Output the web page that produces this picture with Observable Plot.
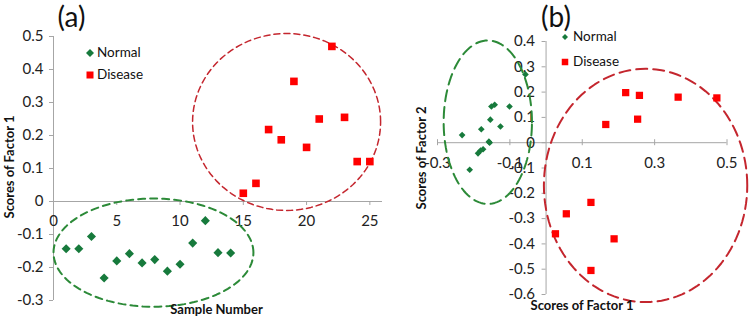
<!DOCTYPE html>
<html><head><meta charset="utf-8">
<script src="https://cdn.jsdelivr.net/npm/d3@7"></script>
<script src="https://cdn.jsdelivr.net/npm/@observablehq/plot@0.6"></script>
<style>
body{margin:0;background:#fff;}
#wrap{position:relative;width:749px;height:318px;overflow:hidden;font-family:Lato,"Open Sans",sans-serif;}
#wrap svg{position:absolute;top:0;overflow:visible;background:transparent;}
.lbl{position:absolute;white-space:nowrap;color:#111;transform:translate(-50%,-50%);line-height:1;}
.leg{position:absolute;white-space:nowrap;color:#111;font-size:13.5px;line-height:1;transform:translateY(-50%);}
</style></head><body><div id="wrap"></div>
<script>
// ---------- Panel (a): Scores of Factor 1 by sample ----------
const sampleNormal = [1,2,3,4,5,6,7,8,9,10,11,12,13,14];
const factor1Normal = [-0.143,-0.143,-0.106,-0.232,-0.180,-0.158,-0.186,-0.176,-0.211,-0.190,-0.126,-0.058,-0.155,-0.156];
const sampleDisease = [15,16,17,18,19,20,21,22,23,24,25];
const factor1Disease = [0.025,0.055,0.218,0.187,0.364,0.164,0.250,0.470,0.255,0.121,0.121];
const aXTicks = [0,5,10,15,20,25];
const aYTicks = [-0.3,-0.2,-0.1,0,0.1,0.2,0.3,0.4,0.5];
const aYTickLabels = ["-0.3","-0.2","-0.1","0","0.1","0.2","0.3","0.4","0.5"];
// ---------- Panel (b): Factor 1 vs Factor 2 ----------
const bNormalF1 = [-0.057,-0.101,-0.151,-0.142,-0.154,-0.126,-0.179,-0.232,-0.156,-0.174,-0.181,-0.188,-0.211,-0.158];
const bNormalF2 = [0.270,0.143,0.143,0.150,0.091,0.064,0.053,0.030,0.000,-0.026,-0.031,-0.042,-0.107,0.004];
const bDiseaseF1 = [0.220,0.258,0.365,0.472,0.165,0.253,0.124,0.056,0.188,0.124,0.026];
const bDiseaseF2 = [0.198,0.187,0.180,0.177,0.072,0.093,-0.236,-0.281,-0.380,-0.505,-0.360];
const bXTicks = [-0.3,-0.1,0.1,0.3,0.5];
const bXTickLabels = ["-0.3","-0.1","0.1","0.3","0.5"];
const bYTicks = [-0.6,-0.5,-0.4,-0.3,-0.2,-0.1,0,0.1,0.2,0.3,0.4];
const bYTickLabels = ["-0.6","-0.5","-0.4","-0.3","-0.2","-0.1","0","0.1","0.2","0.3","0.4"];
// ---------- cluster ellipses (annotation): [cx, cy, rx, ry] in data units ----------
const aNormalEllipse = [7.9,-0.155,7.9,0.164];
const aDiseaseEllipse = [18.42,0.241,7.43,0.268];
const bNormalEllipse = [-0.161,0.081,0.122,0.323];
const bDiseaseEllipse = [0.275,-0.169,0.281,0.461];

const GREEN = "#177a3c", RED = "#ff0000", AXIS = "#a6a6a6";
const RED_DASH = "#c4262e", GREEN_DASH = "#2c8a38";

const zip = (xs, ys) => xs.map((x, i) => ({x, y: ys[i]}));
const ellipse = ([cx, cy, rx, ry]) => d3.range(0, 361, 3).map(a => {
  const t = a * Math.PI / 180;
  return {x: cx + rx * Math.cos(t), y: cy + ry * Math.sin(t)};
});

const wrap = document.getElementById("wrap");

// Panel (a)
const aTickY = 4 / 330, aTickX = 4 / 12.65;
const plotA = Plot.plot({
  width: 400, height: 318,
  marginLeft: 53, marginRight: 18, marginTop: 36, marginBottom: 18,
  x: {domain: [0, 26], axis: null},
  y: {domain: [-0.3, 0.5], axis: null},
  style: {background: "transparent", fontFamily: "Lato, sans-serif", overflow: "visible"},
  marks: [
    Plot.ruleY([0], {x1: 0, x2: 26, stroke: AXIS}),
    Plot.ruleX([0], {y1: -0.3, y2: 0.5, stroke: AXIS}),
    Plot.ruleX(aXTicks, {x: d => d, y1: 0, y2: -aTickY, stroke: AXIS}),
    Plot.ruleY(aYTicks, {y: d => d, x1: -aTickX, x2: 0, stroke: AXIS}),
    Plot.text(aXTicks, {x: d => d, y: 0, dy: 20, text: d => String(d), fontSize: 15, fill: "#222"}),
    Plot.text(aYTicks, {x: 0, y: d => d, dx: -10, text: (d, i) => aYTickLabels[i], textAnchor: "end", fontSize: 15, fill: "#222"}),
    Plot.line(ellipse(aNormalEllipse), {x: "x", y: "y", stroke: GREEN_DASH, strokeWidth: 2, strokeDasharray: "7,5"}),
    Plot.line(ellipse(aDiseaseEllipse), {x: "x", y: "y", stroke: RED_DASH, strokeWidth: 1.5, strokeDasharray: "6,4"}),
    Plot.dot(zip(sampleNormal, factor1Normal), {x: "x", y: "y", symbol: "diamond2", r: 4.1, fill: GREEN, stroke: "none"}),
    Plot.dot(zip(sampleDisease, factor1Disease), {x: "x", y: "y", symbol: "square", r: 4.3, fill: RED, stroke: "none"})
  ]
});
plotA.style.left = "0px";
wrap.appendChild(plotA);

// Panel (b)
const bTickY = 3 / 253, bTickX = 4 / 361.9;
const plotB = Plot.plot({
  width: 369, height: 318,
  marginLeft: 57, marginRight: 22.5, marginTop: 41, marginBottom: 24,
  x: {domain: [-0.3, 0.5], axis: null},
  y: {domain: [-0.6, 0.4], axis: null},
  style: {background: "transparent", fontFamily: "Lato, sans-serif", overflow: "visible"},
  marks: [
    Plot.ruleY([0], {x1: -0.3, x2: 0.5, stroke: AXIS}),
    Plot.ruleX([0], {y1: -0.6, y2: 0.4, stroke: AXIS}),
    Plot.ruleX(bXTicks, {x: d => d, y1: bTickY, y2: -bTickY, stroke: AXIS}),
    Plot.ruleY(bYTicks, {y: d => d, x1: -bTickX, x2: 0, stroke: AXIS}),
    Plot.text(bXTicks, {x: d => d, y: 0, dy: 20, text: (d, i) => bXTickLabels[i], fontSize: 15, fill: "#222"}),
    Plot.text(bYTicks, {x: 0, y: d => d, dx: -11, text: (d, i) => bYTickLabels[i], textAnchor: "end", fontSize: 15, fill: "#222"}),
    Plot.line(ellipse(bNormalEllipse), {x: "x", y: "y", stroke: GREEN_DASH, strokeWidth: 2, strokeDasharray: "11,6"}),
    Plot.line(ellipse(bDiseaseEllipse), {x: "x", y: "y", stroke: RED_DASH, strokeWidth: 2, strokeDasharray: "11,6"}),
    Plot.dot(zip(bNormalF1, bNormalF2), {x: "x", y: "y", symbol: "diamond2", r: 3, fill: GREEN, stroke: "none"}),
    Plot.dot(zip(bDiseaseF1, bDiseaseF2), {x: "x", y: "y", symbol: "square", r: 4.1, fill: RED, stroke: "none"})
  ]
});
plotB.style.left = "380px";
wrap.appendChild(plotB);

// Titles and axis titles
function label(text, cx, cy, css) {
  const d = document.createElement("div");
  d.className = "lbl";
  d.textContent = text;
  d.style.left = cx + "px";
  d.style.top = cy + "px";
  Object.assign(d.style, css || {});
  wrap.appendChild(d);
}
label("(a)", 71.5, 16, {fontSize: "28px"});
label("(b)", 556, 16, {fontSize: "28px"});
label("Scores of Factor 1", 9, 167, {fontSize: "13px", fontWeight: "bold", transform: "translate(-50%,-50%) rotate(-90deg)"});
label("Sample Number", 216.5, 309, {fontSize: "13px", fontWeight: "bold"});
label("Scores of Factor 2", 421, 158, {fontSize: "13px", fontWeight: "bold", transform: "translate(-50%,-50%) rotate(-90deg)"});
label("Scores of Factor 1", 582, 305, {fontSize: "13px", fontWeight: "bold"});

// Legends
function legendItem(x, y, kind, size, color, text, textX) {
  const ns = "http://www.w3.org/2000/svg";
  const s = document.createElementNS(ns, "svg");
  s.setAttribute("width", 12); s.setAttribute("height", 12);
  s.style.left = (x - 6) + "px"; s.style.top = (y - 6) + "px";
  const p = document.createElementNS(ns, kind === "diamond" ? "polygon" : "rect");
  const h = size / 2;
  if (kind === "diamond") p.setAttribute("points", `6,${6-h} ${6+h},6 6,${6+h} ${6-h},6`);
  else { p.setAttribute("x", 6 - h); p.setAttribute("y", 6 - h); p.setAttribute("width", size); p.setAttribute("height", size); }
  p.setAttribute("fill", color);
  s.appendChild(p);
  wrap.appendChild(s);
  const d = document.createElement("div");
  d.className = "leg";
  d.textContent = text;
  d.style.left = textX + "px"; d.style.top = y + "px";
  wrap.appendChild(d);
}
legendItem(90, 53, "diamond", 8, GREEN, "Normal", 97);
legendItem(90, 75, "square", 7, RED, "Disease", 97);
legendItem(565, 37, "diamond", 6, GREEN, "Normal", 573);
legendItem(565, 62, "square", 6.5, RED, "Disease", 573);
</script></body></html>
